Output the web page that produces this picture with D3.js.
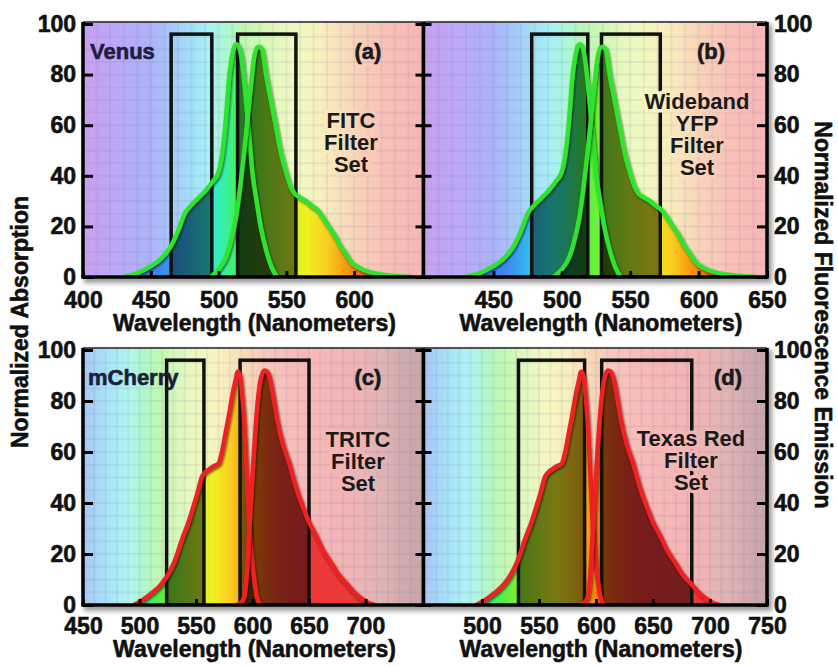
<!DOCTYPE html>
<html>
<head>
<style>
body { margin: 0; background: #fff; overflow: hidden; }
text { font-family: "Liberation Sans", Arial, sans-serif; font-weight: bold; }
</style>
<script src="https://cdnjs.cloudflare.com/ajax/libs/d3/7.8.5/d3.min.js"></script>
</head>
<body>
<svg width="838" height="666"></svg>
<script>
// spectra: [wavelength nm, normalized value]
const venusAbsorption = [[430,0],[440,1.5],[449,4],[457,7],[464,11.4],[470,18],[475,25],[480,28.5],[486,31.7],[491,34.5],[496,38],[500,41.5],[503,50],[505,60],[508,80],[511,90],[513,92],[515,91],[517,86],[519,76.6],[521,65],[523,53],[525,41],[528,30],[531,20],[535,10.7],[539,4],[543,0]];
const venusEmission = [[494,0],[500,3],[505.6,8],[509,14],[513,24],[516,36],[519,50],[522,66],[524,76.6],[526,86],[528,90.5],[530,91],[532,90],[535,80],[538.5,70],[542.4,59],[546,49],[550,41],[553,36],[556,33],[560,31.5],[564.5,30],[569,28],[573,26.5],[577,23.5],[580,21],[585,17],[589,13],[594,9],[598.5,5.5],[604,3.5],[611,2],[620,1],[628,0.5],[642,0]];
const mCherryAbsorption = [[495,0],[503,2],[510.7,4.6],[518,7.5],[524,11],[531,17],[537.5,25.5],[543,32],[548,39],[552,45],[555,50],[558,52],[561,53],[566,54.5],[570,55.5],[573,60],[576,67],[579,74],[582,81.7],[585,88],[587,91.5],[589,90],[591,82],[593,70],[595,52],[597,33],[599,20],[601.5,10],[604,3],[607,0]];
const mCherryEmission = [[586,0],[590,1],[592.6,3],[595,12],[598.5,40],[601,58],[604.5,79],[607,88],[610.5,92],[613,91.5],[615,89.5],[618,83],[622,72.5],[627,63],[632.7,55.5],[638,47],[644.6,38.5],[650,32.5],[656.5,27],[663,21],[670,16.3],[676,12],[683,8.5],[689,5.5],[695,3],[701,1.2],[708,0]];

// filter passbands [from, to] nm
const fitcBands = [[465,495],[514,557]];
const yfpBands = [[478,519],[529,572]];
const tritcBands = [[524,557],[589,650]];
const texasRedBands = [[532,590],[605,684]];
const bandTop = 96;

const ticksA = [400,450,500,550,600];
const ticksB = [450,500,550,600,650];
const ticksC = [450,500,550,600,650,700];
const ticksD = [500,550,600,650,700,750];
const yTicks = [0,20,40,60,80,100];

const fitcText = ['FITC','Filter','Set'];
const yfpText = ['Wideband','YFP','Filter','Set'];
const tritcText = ['TRITC','Filter','Set'];
const texasRedText = ['Texas Red','Filter','Set'];

// colours
const pastelTop = [[380,'#c89cf0'],[400,'#c8a0f0'],[425,'#bca8f8'],[450,'#acb2f8'],[465,'#a8c8f8'],[480,'#a4e0f8'],[492,'#a8f0f4'],[505,'#acf8d4'],[515,'#b8f8b8'],[530,'#d0f8b4'],[545,'#e8f8c0'],[560,'#f2f8c0'],[575,'#f8f0bc'],[590,'#f8e0bc'],[605,'#f8d0b8'],[625,'#f8c0b8'],[650,'#f8b6b6'],[690,'#f0b4b4'],[715,'#e0b4b4'],[740,'#cca8ac'],[760,'#c4a4a8']];
const pastelBottom = [[380,'#a8c0f8'],[450,'#a8c6f6'],[470,'#a8e2f8'],[490,'#b0f4f0'],[505,'#b0f8c8'],[520,'#c4f8b0'],[540,'#e4f8c0'],[560,'#f6f8c0'],[578,'#f8ecbc'],[598,'#f8d4b8'],[620,'#f8c4bc'],[650,'#f8b8b8'],[690,'#f0b4b4'],[715,'#e0b4b4'],[740,'#cca8ac'],[760,'#c4a4a8']];
const saturated = [[380,'#7a40f0'],[420,'#5a50f0'],[445,'#4470f0'],[462,'#3c90f0'],[478,'#30c0f0'],[492,'#30e8e0'],[505,'#38f0a0'],[515,'#48f048'],[530,'#80f030'],[548,'#c0f028'],[565,'#f0f020'],[580,'#f8d020'],[592,'#f8a010'],[605,'#f87010'],[620,'#f04828'],[640,'#f03838'],[700,'#e83838'],[760,'#d04040']];

const svg = d3.select('svg');
const defs = svg.append('defs');

const sh = defs.append('filter').attr('id','lineShadow')
    .attr('x','-20%').attr('y','-20%').attr('width','140%').attr('height','140%');
sh.append('feDropShadow').attr('dx',1).attr('dy',1.5).attr('stdDeviation',1.2)
    .attr('flood-color','#000').attr('flood-opacity',0.6);

const blur = defs.append('filter').attr('id','panelShadow')
    .attr('x','-5%').attr('y','-5%').attr('width','110%').attr('height','115%');
blur.append('feGaussianBlur').attr('stdDeviation',2.5);

const panels = [
    {id:'a', xr:[83,422], yr:[277,24], domain:[400,650], ticks:ticksA, left:true,
     ex:venusAbsorption, em:venusEmission, bands:fitcBands, stroke:'#2ee42e', pastel:pastelTop,
     name:'Venus', nameX:90, nameY:59, tag:'(a)', tagX:368, tagY:59,
     lines:fitcText, linesX:351, linesY:128},
    {id:'b', xr:[425,767], yr:[277,24], domain:[400,650], ticks:ticksB, left:false,
     ex:venusAbsorption, em:venusEmission, bands:yfpBands, stroke:'#2ee42e', pastel:pastelTop,
     tag:'(b)', tagX:711, tagY:59, lines:yfpText, linesX:697, linesY:109},
    {id:'c', xr:[83,422], yr:[605,350], domain:[450,750], ticks:ticksC, left:true,
     ex:mCherryAbsorption, em:mCherryEmission, bands:tritcBands, stroke:'#ee2424', pastel:pastelBottom,
     name:'mCherry', nameX:88, nameY:385, tag:'(c)', tagX:368, tagY:385,
     lines:tritcText, linesX:358, linesY:447},
    {id:'d', xr:[425,767], yr:[605,350], domain:[450,750], ticks:ticksD, left:false,
     ex:mCherryAbsorption, em:mCherryEmission, bands:texasRedBands, stroke:'#ee2424', pastel:pastelBottom,
     tag:'(d)', tagX:728, tagY:385, lines:texasRedText, linesX:691, linesY:446}
];

// heavier looking bold type
const heavy = (sel, c) => sel.attr('stroke', c).attr('stroke-width', 0.6).attr('stroke-linejoin','round');

// panel drop shadows (one per row)
[[24,277],[350,605]].forEach(([t,b]) => {
    svg.append('rect').attr('x',84).attr('y',t).attr('width',688).attr('height',b-t+6)
        .attr('fill','#000').attr('opacity',0.4).attr('filter','url(#panelShadow)');
});

const addGradient = (id, stops, x) => {
    const w0 = stops[0][0], w1 = stops[stops.length-1][0];
    const g = defs.append('linearGradient').attr('id',id)
        .attr('gradientUnits','userSpaceOnUse')
        .attr('x1',x(w0)).attr('x2',x(w1)).attr('y1',0).attr('y2',0);
    stops.forEach(s => g.append('stop')
        .attr('offset',(s[0]-w0)/(w1-w0)).attr('stop-color',s[1]));
};

panels.forEach(p => {
    const x = d3.scaleLinear().domain(p.domain).range(p.xr);
    const y = d3.scaleLinear().domain([0,100]).range(p.yr);
    const bgLeft = p.left ? p.xr[0] : p.xr[0]-1.5;
    const bgRight = p.left ? p.xr[1]+1.5 : p.xr[1];
    const top = y(100)-2, bottom = y(0);

    addGradient('bg-'+p.id, p.pastel, x);
    addGradient('sat-'+p.id, saturated, x);

    defs.append('clipPath').attr('id','clip-'+p.id).append('rect')
        .attr('x',bgLeft).attr('y',top).attr('width',bgRight-bgLeft).attr('height',bottom-top);

    const g = svg.append('g');
    g.append('rect').attr('x',bgLeft).attr('y',top).attr('width',bgRight-bgLeft).attr('height',bottom-top)
        .attr('fill','url(#bg-'+p.id+')');

    // faint grid
    const grid = g.append('g').attr('clip-path','url(#clip-'+p.id+')')
        .attr('stroke','#6a6a9a').attr('stroke-opacity',0.1).attr('stroke-width',2);
    grid.selectAll('.gx').data(d3.range(p.domain[0]+10, p.domain[1], 10)).join('line')
        .attr('x1',d=>x(d)).attr('x2',d=>x(d)).attr('y1',top).attr('y2',bottom);
    grid.selectAll('.gy').data(d3.range(5,100,5)).join('line')
        .attr('x1',bgLeft).attr('x2',bgRight).attr('y1',d=>y(d)).attr('y2',d=>y(d));

    const area = d3.area().x(d=>x(d[0])).y0(y(0)).y1(d=>y(d[1])).curve(d3.curveMonotoneX);
    const line = d3.line().x(d=>x(d[0])).y(d=>y(d[1])).curve(d3.curveMonotoneX);

    const plot = g.append('g').attr('clip-path','url(#clip-'+p.id+')');
    [p.ex, p.em].forEach(s => plot.append('path').attr('d',area(s)).attr('fill','url(#sat-'+p.id+')'));

    // darkened spectrum inside each passband
    p.bands.forEach((b,i) => {
        const cid = 'band-'+p.id+i;
        defs.append('clipPath').attr('id',cid).append('rect')
            .attr('x',x(b[0])).attr('y',y(bandTop)).attr('width',x(b[1])-x(b[0])).attr('height',y(0)-y(bandTop));
        const bg = plot.append('g').attr('clip-path','url(#'+cid+')');
        [p.ex, p.em].forEach(s => bg.append('path').attr('d',area(s)).attr('fill','#000').attr('opacity',0.5));
    });

    // passband boxes
    plot.selectAll('rect.band').data(p.bands).join('rect').attr('class','band')
        .attr('x',d=>x(d[0])).attr('y',y(bandTop)).attr('width',d=>x(d[1])-x(d[0])).attr('height',y(0)-y(bandTop))
        .attr('fill','none').attr('stroke','#111').attr('stroke-width',3.5);

    // spectra lines
    [p.ex, p.em].forEach(s => plot.append('path').attr('d',line(s))
        .attr('fill','none').attr('stroke',p.stroke).attr('stroke-width',4.5)
        .attr('stroke-linejoin','round').attr('filter','url(#lineShadow)'));

    // labels inside panel
    if (p.name) g.append('text').attr('x',p.nameX).attr('y',p.nameY).attr('font-size',22)
        .attr('fill','#1d1d3d').text(p.name).call(heavy,'#1d1d3d');
    g.append('text').attr('x',p.tagX).attr('y',p.tagY).attr('font-size',22).attr('text-anchor','middle')
        .attr('fill','#1a1a1a').text(p.tag).call(heavy,'#1a1a1a');
    // filter-set text with a background-coloured halo that hides the box line behind it
    g.selectAll('text.ft').data(p.lines).join('text').attr('class','ft')
        .attr('x',p.linesX).attr('y',(d,i)=>p.linesY+i*22).attr('font-size',22).attr('text-anchor','middle')
        .attr('fill','#1a1a1a').attr('stroke','url(#bg-'+p.id+')').attr('stroke-width',7)
        .attr('paint-order','stroke').attr('stroke-linejoin','round').text(d=>d);

    // axes
    const axisStyle = a => {
        a.select('.domain').remove();
        a.selectAll('.tick line').attr('stroke','#000').attr('stroke-width',3);
        a.selectAll('.tick text').attr('font-size',23).attr('fill','#111')
            .style('font-family','"Liberation Sans", Arial, sans-serif').style('font-weight','bold')
            .call(heavy,'#111');
    };
    svg.append('g').attr('transform',`translate(0,${bottom})`)
        .call(d3.axisBottom(x).tickValues(p.ticks).tickSizeInner(-6).tickSizeOuter(0)
            .tickPadding(p.id < 'c' ? 15 : 13).tickFormat(d3.format('d')))
        .call(axisStyle);
    const yLeft = p.left ? p.xr[0] : p.xr[0]-1.5;
    const yRight = p.left ? p.xr[1]+1.5 : p.xr[1];
    svg.append('g').attr('transform',`translate(${yLeft},0)`)
        .call(d3.axisLeft(y).tickValues(yTicks).tickSizeInner(p.left ? -10 : -8).tickSizeOuter(0)
            .tickPadding(7).tickFormat(p.left ? d3.format('d') : ''))
        .call(axisStyle);
    svg.append('g').attr('transform',`translate(${yRight},0)`)
        .call(d3.axisRight(y).tickValues(yTicks).tickSizeInner(p.left ? -8 : -10).tickSizeOuter(0)
            .tickPadding(7).tickFormat(p.left ? '' : d3.format('d')))
        .call(axisStyle);

    // frame
    g.append('line').attr('x1',bgLeft).attr('x2',bgRight).attr('y1',top).attr('y2',top)
        .attr('stroke','#222').attr('stroke-width',1.5);
    g.append('line').attr('x1',bgLeft-1.75).attr('x2',bgRight+1.75).attr('y1',bottom).attr('y2',bottom)
        .attr('stroke','#000').attr('stroke-width',3.5);
    [yLeft, yRight].forEach(v => g.append('line').attr('x1',v).attr('x2',v).attr('y1',top).attr('y2',bottom)
        .attr('stroke','#000').attr('stroke-width',3.5));

    // x axis title
    svg.append('text').attr('x',(p.xr[0]+p.xr[1])/2 + (p.left ? 2 : 5)).attr('y',p.id < 'c' ? 331 : 657)
        .attr('text-anchor','middle').attr('font-size',23).attr('fill','#111')
        .text('Wavelength (Nanometers)').call(heavy,'#111');
});

svg.append('text').attr('transform','translate(28,322) rotate(-90)').attr('text-anchor','middle')
    .attr('font-size',23).attr('fill','#111').text('Normalized Absorption').call(heavy,'#111');
svg.append('text').attr('transform','translate(815,315) rotate(90)').attr('text-anchor','middle')
    .attr('font-size',23).attr('fill','#111').text('Normalized Fluorescence Emission').call(heavy,'#111');
</script>
</body>
</html>
